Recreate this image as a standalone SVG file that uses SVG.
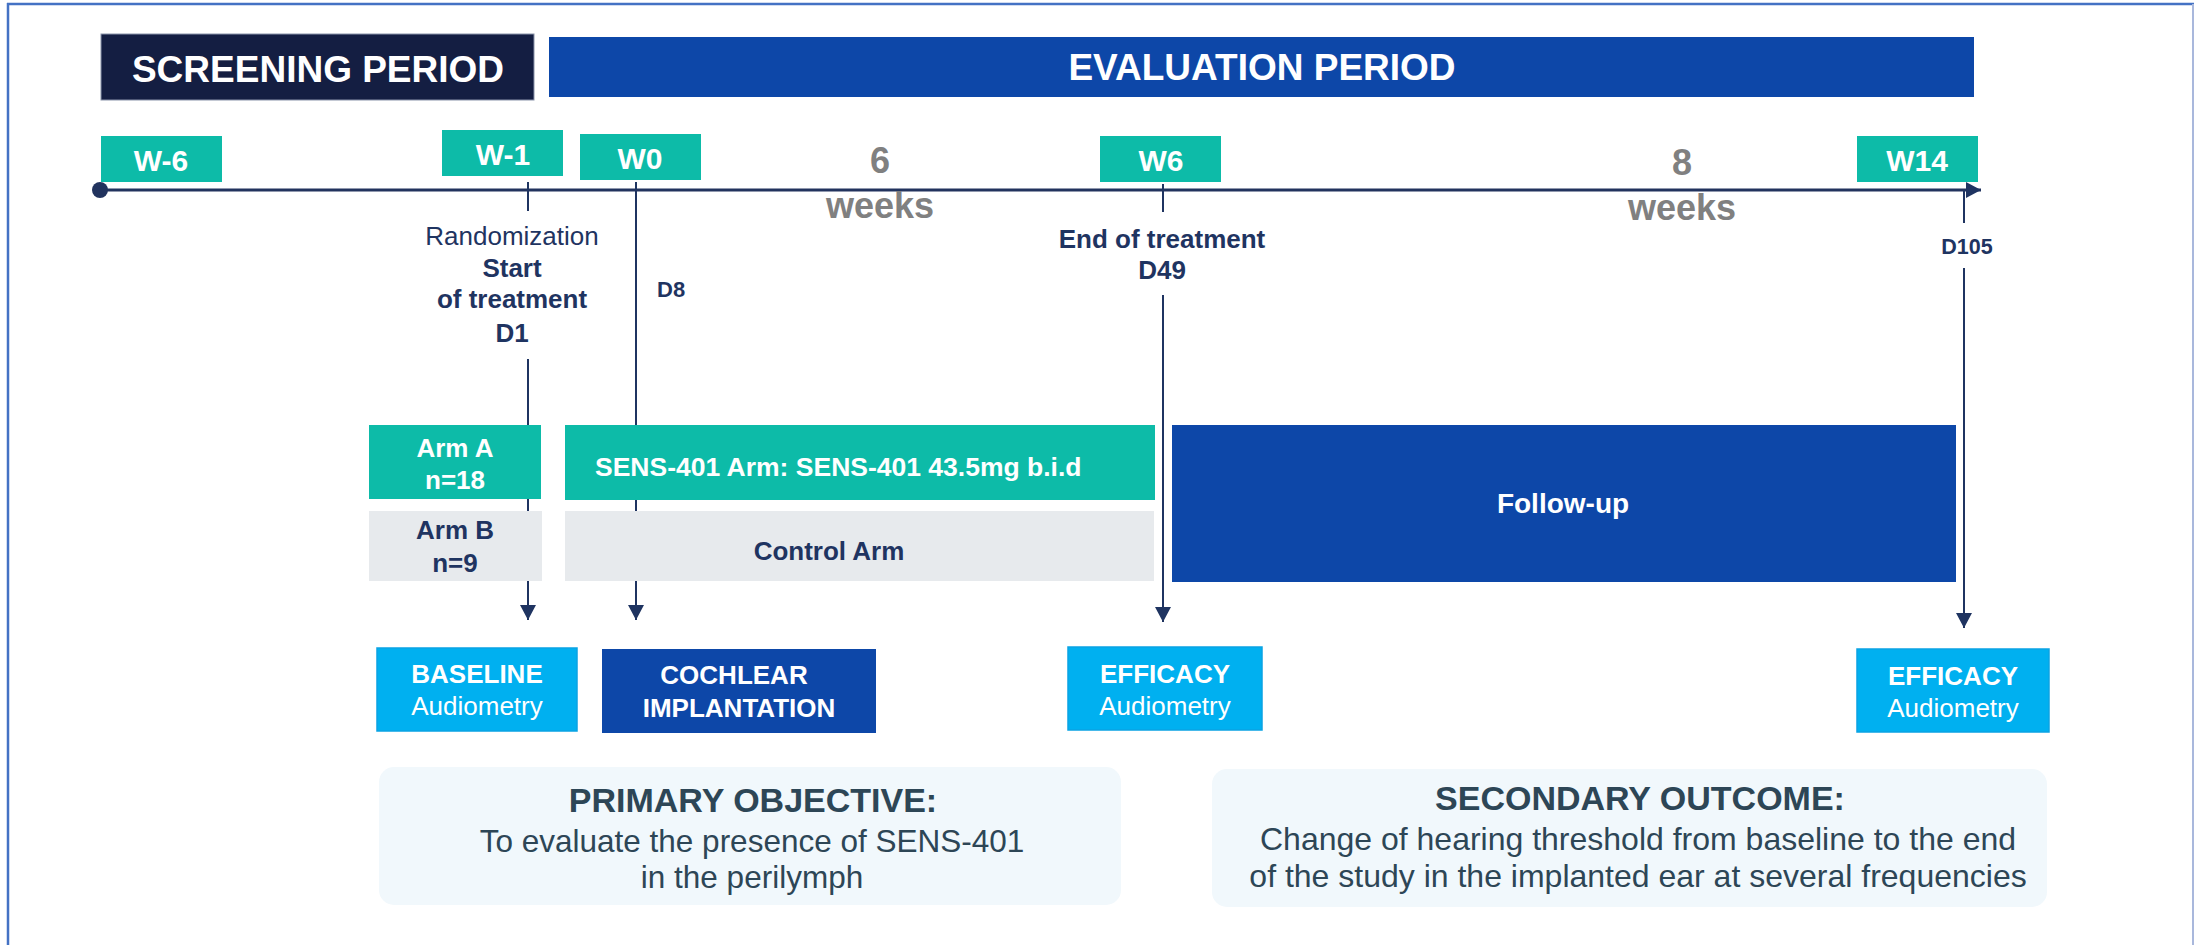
<svg xmlns="http://www.w3.org/2000/svg" width="2195" height="945" viewBox="0 0 2195 945">
<defs>
<marker id="ah" markerUnits="userSpaceOnUse" markerWidth="16" markerHeight="16" refX="15" refY="8" orient="auto">
<path d="M0,0 L15,8 L0,16 z" fill="#1F3461"/>
</marker>
<style>
text{font-family:"Liberation Sans",Arial,sans-serif}
.b{font-weight:bold}
.w{fill:#FFFFFF}
.n{fill:#1F3461}
.g{fill:#808080}
.s{fill:#2D4656}
.teal{fill:#0DBBA8}
.blue{fill:#0D47A8}
.cyan{fill:#00B0F0;stroke:#0AA3E3;stroke-width:1.5}
.grey{fill:#E7EAED}
.obj{fill:#F1F8FC}
.ln{stroke:#1F3461;stroke-width:2;fill:none}
.mid{text-anchor:middle}
</style>
</defs>
<rect x="0" y="0" width="2195" height="945" fill="#FFFFFF"/>
<g id="frame">
<line x1="7" y1="4" x2="2194" y2="4" stroke="#4472C4" stroke-width="2.5"/>
<line x1="8" y1="3" x2="8" y2="945" stroke="#4472C4" stroke-width="2.5"/>
<line x1="2193" y1="4" x2="2193" y2="945" stroke="#A9B8DC" stroke-width="2"/>
</g>
<g id="connectors">
<line x1="100" y1="190" x2="1981" y2="190" stroke="#22335E" stroke-width="3" marker-end="url(#ah)"/>
<circle cx="100" cy="190" r="8" fill="#22335E"/>
<line class="ln" x1="528" y1="182" x2="528" y2="211"/>
<line class="ln" x1="528" y1="359" x2="528" y2="620" marker-end="url(#ah)"/>
<line class="ln" x1="636" y1="182" x2="636" y2="620" marker-end="url(#ah)"/>
<line class="ln" x1="1163" y1="184" x2="1163" y2="212"/>
<line class="ln" x1="1163" y1="295" x2="1163" y2="622" marker-end="url(#ah)"/>
<line class="ln" x1="1964" y1="190" x2="1964" y2="223"/>
<line class="ln" x1="1964" y1="268" x2="1964" y2="628" marker-end="url(#ah)"/>
</g>
<g id="screening">
<rect x="101" y="34" width="433" height="66" fill="#141E42" stroke="#8A93AA" stroke-width="1"/>
<text class="b w mid" x="318" y="82" font-size="37">SCREENING PERIOD</text>
</g>
<g id="evaluation">
<rect class="blue" x="549" y="37" width="1425" height="60"/>
<text class="b w mid" x="1262" y="80" font-size="37">EVALUATION PERIOD</text>
</g>
<g id="w-6">
<rect class="teal" x="101" y="136" width="121" height="46"/>
<text class="b w mid" x="161" y="171" font-size="30">W-6</text>
</g>
<g id="w-1">
<rect class="teal" x="442" y="130" width="121" height="46"/>
<text class="b w mid" x="503" y="165" font-size="30">W-1</text>
</g>
<g id="w0">
<rect class="teal" x="580" y="134" width="121" height="46"/>
<text class="b w mid" x="640" y="169" font-size="30">W0</text>
</g>
<g id="w6">
<rect class="teal" x="1100" y="136" width="121" height="46"/>
<text class="b w mid" x="1161" y="171" font-size="30">W6</text>
</g>
<g id="w14">
<rect class="teal" x="1857" y="136" width="121" height="46"/>
<text class="b w mid" x="1917" y="171" font-size="30">W14</text>
</g>
<g id="six-weeks">
<text class="b g mid" x="880" y="173" font-size="36">6</text>
<text class="b g mid" x="880" y="218" font-size="36">weeks</text>
</g>
<g id="eight-weeks">
<text class="b g mid" x="1682" y="175" font-size="36">8</text>
<text class="b g mid" x="1682" y="220" font-size="36">weeks</text>
</g>
<g id="randomization">
<text class="n mid" x="512" y="245" font-size="26">Randomization</text>
<text class="b n mid" x="512" y="277" font-size="26">Start</text>
<text class="b n mid" x="512" y="308" font-size="26">of treatment</text>
<text class="b n mid" x="512" y="342" font-size="26">D1</text>
</g>
<g id="d8">
<text class="b n" x="657" y="297" font-size="22">D8</text>
</g>
<g id="end-treatment">
<text class="b n mid" x="1162" y="248" font-size="26">End of treatment</text>
<text class="b n mid" x="1162" y="279" font-size="26">D49</text>
</g>
<g id="d105">
<text class="b n mid" x="1967" y="254" font-size="21.5">D105</text>
</g>
<g id="arm-a">
<rect class="teal" x="369" y="425" width="172" height="74"/>
<text class="b w mid" x="455" y="457" font-size="26">Arm A</text>
<text class="b w mid" x="455" y="489" font-size="26">n=18</text>
</g>
<g id="arm-b">
<rect class="grey" x="369" y="511" width="173" height="70"/>
<text class="b n mid" x="455" y="539" font-size="26">Arm B</text>
<text class="b n mid" x="455" y="572" font-size="26">n=9</text>
</g>
<g id="sens-arm">
<rect class="teal" x="565" y="425" width="590" height="75"/>
<text class="b w" x="595" y="476" font-size="26.5">SENS-401 Arm: SENS-401 43.5mg b.i.d</text>
</g>
<g id="control-arm">
<rect class="grey" x="565" y="511" width="589" height="70"/>
<text class="b n mid" x="829" y="560" font-size="26">Control Arm</text>
</g>
<g id="follow-up">
<rect class="blue" x="1172" y="425" width="784" height="157"/>
<text class="b w mid" x="1563" y="513" font-size="28">Follow-up</text>
</g>
<g id="baseline">
<rect class="cyan" x="377" y="648" width="200" height="83"/>
<text class="b w mid" x="477" y="683" font-size="26">BASELINE</text>
<text class="w mid" x="477" y="715" font-size="26">Audiometry</text>
</g>
<g id="cochlear">
<rect class="blue" x="602" y="649" width="274" height="84"/>
<text class="b w mid" x="734" y="684" font-size="26">COCHLEAR</text>
<text class="b w mid" x="739" y="717" font-size="26">IMPLANTATION</text>
</g>
<g id="efficacy-1">
<rect class="cyan" x="1068" y="647" width="194" height="83"/>
<text class="b w mid" x="1165" y="683" font-size="26">EFFICACY</text>
<text class="w mid" x="1165" y="715" font-size="26">Audiometry</text>
</g>
<g id="efficacy-2">
<rect class="cyan" x="1857" y="649" width="192" height="83"/>
<text class="b w mid" x="1953" y="685" font-size="26">EFFICACY</text>
<text class="w mid" x="1953" y="717" font-size="26">Audiometry</text>
</g>
<g id="primary-objective">
<rect class="obj" x="379" y="767" width="742" height="138" rx="15"/>
<text class="b s mid" x="753" y="812" font-size="34">PRIMARY OBJECTIVE:</text>
<text class="s mid" x="752" y="852" font-size="31.5">To evaluate the presence of SENS-401</text>
<text class="s mid" x="752" y="888" font-size="31.5">in the perilymph</text>
</g>
<g id="secondary-outcome">
<rect class="obj" x="1212" y="769" width="835" height="138" rx="15"/>
<text class="b s mid" x="1640" y="810" font-size="34">SECONDARY OUTCOME:</text>
<text class="s mid" x="1638" y="850" font-size="32">Change of hearing threshold from baseline to the end</text>
<text class="s mid" x="1638" y="887" font-size="32">of the study in the implanted ear at several frequencies</text>
</g>
</svg>
